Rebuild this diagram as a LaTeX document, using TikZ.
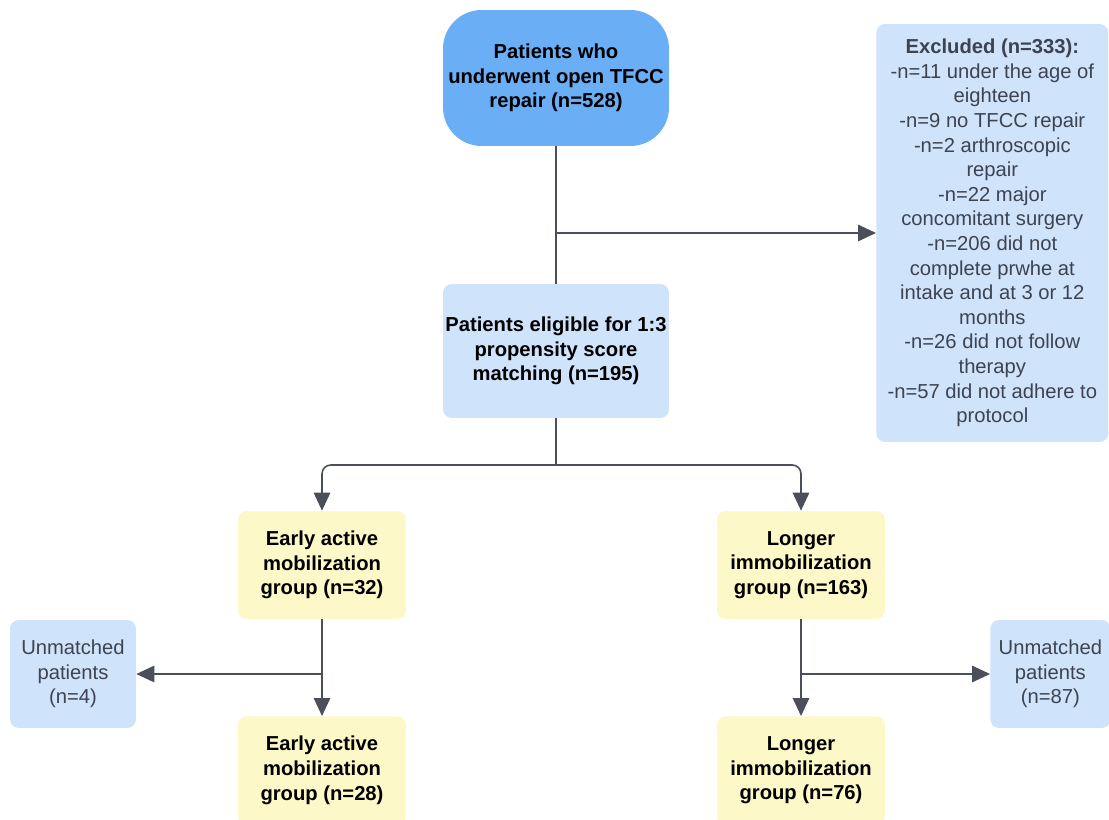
\documentclass[tikz,border=0pt]{standalone}
\usepackage{fontspec}
\setmainfont{Liberation Sans}
\usepackage{xcolor}
\usetikzlibrary{arrows.meta}
\definecolor{topblue}{HTML}{6AAEF6}
\definecolor{paleblue}{HTML}{CFE3FB}
\definecolor{paleyellow}{HTML}{FCF8C8}
\definecolor{linegray}{HTML}{4A4F5A}
\definecolor{textgray}{HTML}{3D4350}

\begin{document}
\begin{tikzpicture}[
  x=0.02cm, y=-0.02cm,
  box/.style={inner sep=0pt, align=center, rounded corners=5pt,
    font=\fontsize{11.5}{14}\selectfont},
  startbox/.style={box, fill=topblue, rounded corners=22pt, font=\fontsize{11.5}{14}\selectfont\bfseries},
  bluebox/.style={box, fill=paleblue, font=\fontsize{11.5}{14}\selectfont\bfseries},
  infobox/.style={box, fill=paleblue, text=textgray},
  groupbox/.style={box, fill=paleyellow, font=\fontsize{11.5}{14}\selectfont\bfseries},
  arrow/.style={-{Triangle[length=3.6mm,width=3.3mm]}, draw=linegray, line width=0.9pt},
  link/.style={draw=linegray, line width=0.9pt}
]
\useasboundingbox (0,0) rectangle (1109,820);
\fill[white] (0,0) rectangle (1109,820);

\node[startbox, minimum width=4.52cm, minimum height=2.72cm] (start) at (556,78)
  {Patients who\\underwent open TFCC\\repair (n=528)};
\node[bluebox, minimum width=4.52cm, minimum height=2.68cm] (eligible) at (556,351)
  {Patients eligible for 1:3\\propensity score\\matching (n=195)};
\node[infobox, minimum width=4.64cm, minimum height=8.36cm, anchor=west] (excluded) at (876,233)
  {\textbf{Excluded (n=333):}\\-n=11 under the age of\\eighteen\\-n=9 no TFCC repair\\-n=2 arthroscopic\\repair\\-n=22 major\\concomitant surgery\\-n=206 did not\\complete prwhe at\\intake and at 3 or 12\\months\\-n=26 did not follow\\therapy\\-n=57 did not adhere to\\protocol};

\node[groupbox, minimum width=3.36cm, minimum height=2.16cm] (early) at (322,565)
  {Early active\\mobilization\\group (n=32)};
\node[groupbox, minimum width=3.36cm, minimum height=2.16cm] (longer) at (801,565)
  {Longer\\immobilization\\group (n=163)};
\node[groupbox, minimum width=3.36cm, minimum height=2.16cm, anchor=north] (earlym) at (322,716)
  {Early active\\mobilization\\group (n=28)};
\node[groupbox, minimum width=3.36cm, minimum height=2.16cm, anchor=north] (longerm) at (801,716)
  {Longer\\immobilization\\group (n=76)};

\node[infobox, minimum width=2.52cm, minimum height=2.16cm] (unmatchedl) at (73,674)
  {Unmatched\\patients\\(n=4)};
\node[infobox, minimum width=2.4cm, minimum height=2.16cm, anchor=west] (unmatchedr) at (990,674)
  {Unmatched\\patients\\(n=87)};

\coordinate (split1) at (556,233);
\coordinate (split2) at (556,465);
\coordinate (split3) at (322,674);
\coordinate (split4) at (801,674);

\draw[link] (start) -- (eligible);
\draw[arrow] (split1) -- (excluded);
\draw[link] (eligible) -- (split2);
\draw[arrow, rounded corners=5pt] (split2) -| (early);
\draw[arrow, rounded corners=5pt] (split2) -| (longer);
\draw[arrow] (early) -- (earlym);
\draw[arrow] (split3) -- (unmatchedl);
\draw[arrow] (longer) -- (longerm);
\draw[arrow] (split4) -- (unmatchedr);

\end{tikzpicture}
\end{document}
